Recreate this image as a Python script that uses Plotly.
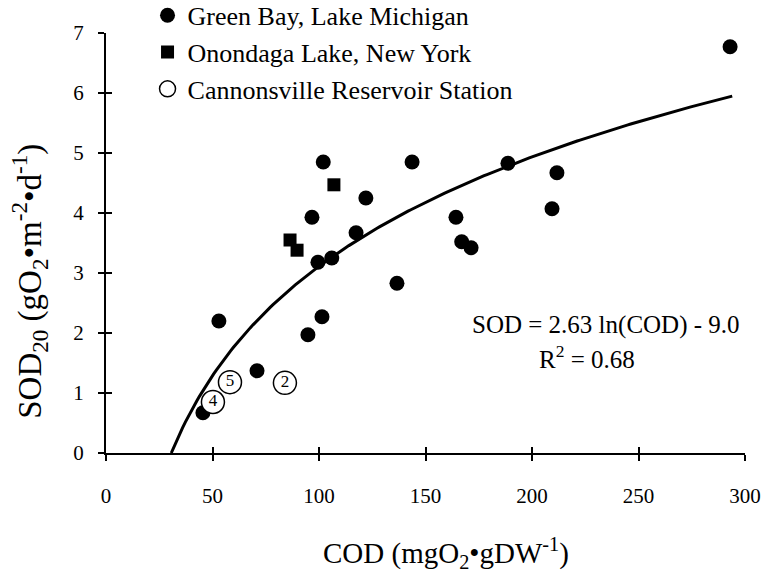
import plotly.graph_objects as go
import numpy as np

# Green Bay, Lake Michigan
gb_cod = [293, 53, 102, 143.7, 122, 96.7, 117.4, 99.5, 106, 136.6, 101.4, 94.8, 164.3, 167, 171.4, 188.7, 211.7, 209.4, 70.9, 45.5]
gb_sod = [6.77, 2.2, 4.85, 4.85, 4.25, 3.93, 3.67, 3.18, 3.25, 2.83, 2.27, 1.97, 3.93, 3.52, 3.42, 4.83, 4.67, 4.07, 1.37, 0.67]

# Onondaga Lake, New York
on_cod = [107, 86.4, 89.7]
on_sod = [4.47, 3.55, 3.38]

# Cannonsville Reservoir stations
cr_cod = [84, 50.2, 58.2]
cr_sod = [1.17, 0.85, 1.18]
cr_lab = ["2", "4", "5"]

# Regression: SOD = a ln(COD) + b
fit_a = 2.63
fit_b = -9.0
fit_x = np.linspace(np.exp(-fit_b / fit_a), 294, 200)
fit_y = fit_a * np.log(fit_x) + fit_b

FONT = "Liberation Serif"

fig = go.Figure()
fig.add_trace(go.Scatter(x=fit_x, y=fit_y, mode="lines", line=dict(color="black", width=3),
                         showlegend=False, hoverinfo="skip"))
fig.add_trace(go.Scatter(x=gb_cod, y=gb_sod, mode="markers", name="Green Bay, Lake Michigan",
                         legendgroup="a",
                         marker=dict(symbol="circle", size=15, color="black")))
fig.add_trace(go.Scatter(x=on_cod, y=on_sod, mode="markers", name="Onondaga Lake, New York",
                         legendgroup="b",
                         marker=dict(symbol="square", size=13, color="black")))
fig.add_trace(go.Scatter(x=cr_cod, y=cr_sod, mode="markers+text", name="Cannonsville Reservoir Station",
                         legendgroup="c",
                         text=cr_lab, textposition="middle center",
                         textfont=dict(family=FONT, size=17, color="black"),
                         marker=dict(symbol="circle", size=23, color="white",
                                     line=dict(color="black", width=1.5))))

axis_common = dict(showline=True, linecolor="black", linewidth=2, showgrid=False, zeroline=False,
                   ticks="outside", tickcolor="black", tickwidth=1.5, ticklen=6,
                   tickfont=dict(family=FONT, size=21, color="black"))

fig.update_layout(
    width=779, height=577,
    margin=dict(l=106, r=34, t=33, b=124, autoexpand=False),
    paper_bgcolor="white", plot_bgcolor="white",
    font=dict(family=FONT, color="black"),
    xaxis=dict(range=[0, 300], tickvals=[0, 50, 100, 150, 200, 250, 300],
               ticklabelstandoff=17, **axis_common),
    yaxis=dict(range=[0, 7], tickvals=[0, 1, 2, 3, 4, 5, 6, 7],
               ticklabelstandoff=10, **axis_common),
    xaxis2=dict(range=[0, 300], overlaying="x", side="bottom", tickvals=[50, 100, 150, 200, 250, 300],
                ticks="inside", ticklen=6, tickwidth=1.5, tickcolor="black", showticklabels=False,
                showgrid=False, zeroline=False, showline=False),
    yaxis2=dict(range=[0, 7], overlaying="y", side="left", tickvals=[1, 2, 3, 4, 5, 6, 7],
                ticks="inside", ticklen=6, tickwidth=1.5, tickcolor="black", showticklabels=False,
                showgrid=False, zeroline=False, showline=False),
    legend=dict(x=0.065, y=1.098, xanchor="left", yanchor="top", bgcolor="rgba(0,0,0,0)",
                font=dict(family=FONT, size=26, color="black"), tracegroupgap=0),
    annotations=[
        dict(x=0.532, y=-0.238, xref="paper", yref="paper", xanchor="center", yanchor="middle",
             text="COD (mgO<sub>2</sub>•gDW<sup>-1</sup>)", showarrow=False,
             font=dict(family=FONT, size=29, color="black")),
        dict(x=-0.119, y=0.41, xref="paper", yref="paper", xanchor="center", yanchor="middle",
             textangle=-90,
             text="SOD<sub>20</sub> (gO<sub>2</sub>•m<sup>-2</sup>•d<sup>-1</sup>)", showarrow=False,
             font=dict(family=FONT, size=33, color="black")),
        dict(x=234.7, y=2.13, xref="x", yref="y", text="SOD = 2.63 ln(COD) - 9.0", showarrow=False,
             font=dict(family=FONT, size=25, color="black")),
        dict(x=225.8, y=1.6, xref="x", yref="y", text="R<sup>2</sup> = 0.68", showarrow=False,
             font=dict(family=FONT, size=25, color="black")),
    ],
)
# invisible trace to activate secondary axes (inside ticks, giving crossing tick marks)
fig.add_trace(go.Scatter(x=[0], y=[0], xaxis="x2", yaxis="y2", mode="markers",
                         marker=dict(opacity=0), showlegend=False, hoverinfo="skip"))

fig.write_html("out.html")
